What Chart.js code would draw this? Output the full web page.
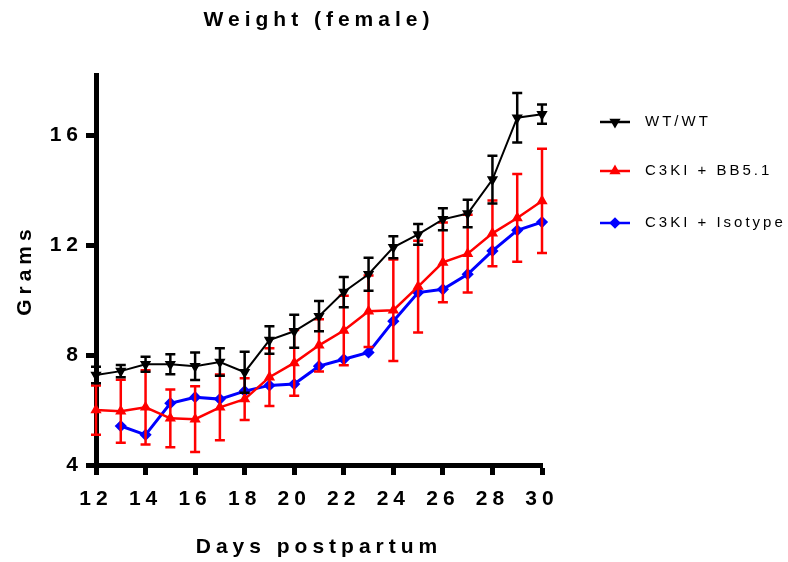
<!DOCTYPE html>
<html>
<head>
<meta charset="utf-8">
<script src="https://cdn.jsdelivr.net/npm/chart.js@4"></script>
<style>
    html, body { margin: 0; padding: 0; background: #fff; }
    canvas { display: block; }
</style>
</head>
<body>
<canvas id="weight-chart" width="788" height="562"></canvas>
<script>
// Weight (female) - growth curves with SEM error bars

const days = [12, 13, 14, 15, 16, 17, 18, 19, 20, 21, 22, 23, 24, 25, 26, 27, 28, 29, 30];

const wtMean = [7.28, 7.42, 7.67, 7.67, 7.6, 7.75, 7.38, 8.55, 8.87, 9.42, 10.3, 10.95, 11.93, 12.4, 12.95, 13.16, 14.4, 16.65, 16.78];
const wtErr  = [0.3, 0.22, 0.27, 0.36, 0.5, 0.5, 0.75, 0.5, 0.6, 0.55, 0.55, 0.6, 0.4, 0.38, 0.4, 0.5, 0.87, 0.9, 0.35];

const bbMean = [6.0, 5.96, 6.1, 5.7, 5.67, 6.1, 6.4, 7.2, 7.72, 8.36, 8.9, 9.6, 9.64, 10.5, 11.38, 11.7, 12.44, 13.0, 13.62];
const bbErr  = [0.9, 1.15, 1.35, 1.05, 1.2, 1.2, 0.76, 1.05, 1.2, 0.95, 1.27, 1.3, 1.85, 1.67, 1.45, 1.42, 1.2, 1.6, 1.9];

const isoMean = [null, 5.42, 5.1, 6.25, 6.47, 6.4, 6.69, 6.9, 6.95, 7.6, 7.85, 8.1, 9.24, 10.28, 10.4, 10.95, 11.8, 12.55, 12.85];

const seriesLabels = ['WT/WT', 'C3KI + BB5.1', 'C3KI + Isotype'];
const yTicks = [4, 8, 12, 16];

const FONT = '"Liberation Sans", Arial, sans-serif';
Chart.defaults.font.family = FONT;
Chart.defaults.color = '#000';

function toPoints(values) {
    return days.map((d, i) => ({ x: d, y: values[i] }));
}

// letter spacing like the original export
const spacing = {
    id: 'spacing',
    beforeLayout(chart) { chart.ctx.letterSpacing = '5px'; },
    beforeDraw(chart) { chart.ctx.letterSpacing = '5px'; }
};

// vertical error bars with caps, drawn under each line
const errorBars = {
    id: 'errorBars',
    beforeDatasetDraw(chart, args) {
        const ds = chart.data.datasets[args.index];
        if (!ds.errors) return;
        const yScale = chart.scales.y;
        const ctx = chart.ctx;
        ctx.save();
        ctx.strokeStyle = ds.borderColor;
        ctx.lineWidth = 2.5;
        args.meta.data.forEach((pt, i) => {
            const v = ds.data[i].y;
            const e = ds.errors[i];
            if (v == null || !e) return;
            const top = yScale.getPixelForValue(v + e);
            const bot = yScale.getPixelForValue(v - e);
            const x = pt.x;
            ctx.beginPath();
            ctx.moveTo(x, top); ctx.lineTo(x, bot);
            ctx.moveTo(x - 5, top); ctx.lineTo(x + 5, top);
            ctx.moveTo(x - 5, bot); ctx.lineTo(x + 5, bot);
            ctx.stroke();
        });
        ctx.restore();
    }
};

// legend on the right: short line with the marker, then the label
const sideLegend = {
    id: 'sideLegend',
    afterDraw(chart) {
        const ctx = chart.ctx;
        const rows = [122, 171, 223];
        chart.data.datasets.forEach((ds, i) => {
            const y = rows[i];
            ctx.save();
            ctx.strokeStyle = ds.borderColor;
            ctx.fillStyle = ds.borderColor;
            ctx.lineWidth = 2.5;
            ctx.beginPath();
            ctx.moveTo(600, y);
            ctx.lineTo(630, y);
            ctx.stroke();
            Chart.helpers.drawPoint(ctx, {
                pointStyle: ds.pointStyle,
                rotation: ds.pointRotation || 0,
                radius: 4,
                borderWidth: 1
            }, 615, y);
            ctx.letterSpacing = '3px';
            ctx.font = '15px ' + FONT;
            ctx.textBaseline = 'middle';
            ctx.textAlign = 'left';
            ctx.fillStyle = '#000';
            ctx.fillText(ds.label, 645, y);
            ctx.restore();
        });
    }
};

const ctx = document.getElementById('weight-chart');

new Chart(ctx, {
    type: 'line',
    data: {
        datasets: [
            {
                label: seriesLabels[0],
                data: toPoints(wtMean),
                errors: wtErr,
                borderColor: '#000',
                backgroundColor: '#000',
                borderWidth: 2,
                pointStyle: 'triangle',
                pointRotation: 180,
                pointRadius: 4.5,
                clip: 8
            },
            {
                label: seriesLabels[1],
                data: toPoints(bbMean),
                errors: bbErr,
                borderColor: '#ff0000',
                backgroundColor: '#ff0000',
                borderWidth: 2.5,
                pointStyle: 'triangle',
                pointRadius: 4,
                clip: 8
            },
            {
                label: seriesLabels[2],
                data: toPoints(isoMean),
                borderColor: '#0000ff',
                backgroundColor: '#0000ff',
                borderWidth: 3,
                pointStyle: 'rectRot',
                pointRadius: 4,
                clip: 8
            }
        ]
    },
    options: {
        responsive: false,
        animation: false,
        layout: {
            padding: { left: 0, right: 246, top: 0, bottom: 0 }
        },
        elements: {
            line: { tension: 0 },
            point: { borderWidth: 1 }
        },
        plugins: {
            legend: { display: false },
            tooltip: { enabled: false },
            title: {
                display: true,
                text: 'Weight (female)',
                fullSize: false,
                font: { size: 21, weight: 'bold' },
                padding: { top: 8, bottom: 42 }
            }
        },
        scales: {
            x: {
                type: 'linear',
                min: 12,
                max: 30,
                ticks: {
                    stepSize: 2,
                    padding: 12,
                    font: { size: 21, weight: 'bold' }
                },
                grid: {
                    drawOnChartArea: false,
                    tickLength: 10,
                    tickWidth: 5,
                    tickColor: '#000'
                },
                border: { color: '#000', width: 5 },
                title: {
                    display: true,
                    text: 'Days postpartum',
                    font: { size: 21, weight: 'bold' },
                    padding: { top: 0, bottom: 2 }
                },
                afterFit: s => { s.height = 97; }
            },
            y: {
                min: 4,
                max: 18.2,
                afterBuildTicks: s => { s.ticks = yTicks.map(v => ({ value: v })); },
                ticks: {
                    padding: 3,
                    font: { size: 21, weight: 'bold' }
                },
                grid: {
                    drawOnChartArea: false,
                    tickLength: 10,
                    tickWidth: 5,
                    tickColor: '#000'
                },
                border: { color: '#000', width: 5 },
                title: {
                    display: true,
                    text: 'Grams',
                    font: { size: 21, weight: 'bold' },
                    padding: { top: 13, bottom: 0 }
                },
                afterFit: s => { s.width = 96; }
            }
        }
    },
    plugins: [spacing, errorBars, sideLegend]
});
</script>
</body>
</html>
